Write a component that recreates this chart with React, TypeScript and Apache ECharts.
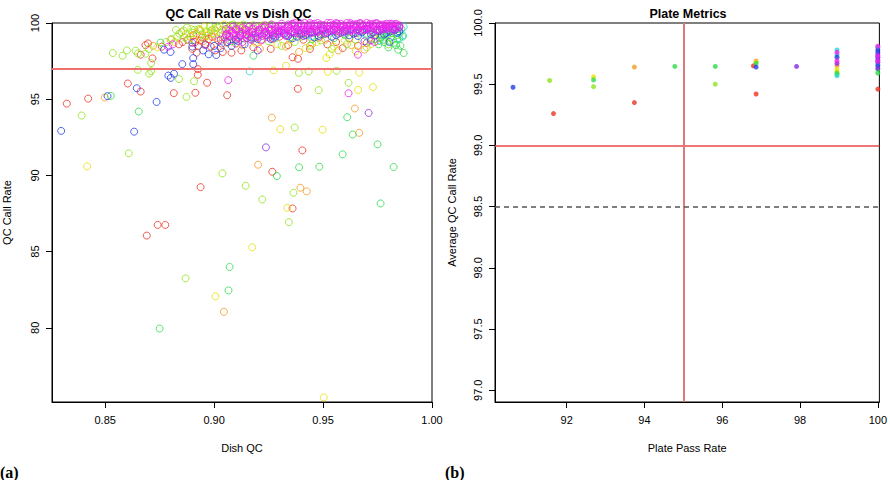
import React, { useEffect, useRef } from "react";
import * as echarts from "echarts";

// ---------- Panel (a): QC Call Rate vs Dish QC ----------
const leftXTicks = [0.85, 0.9, 0.95, 1.0];
const leftYTicks = [80, 85, 90, 95, 100];
const leftThreshold = 97;

const redPts = [
  [0.8324, 94.71], [0.8422, 95.04], [0.8604, 96.03], [0.8663, 95.5], [0.8663, 97.92], [0.8697, 98.66], [0.8717, 97.68],
  [0.8815, 95.4], [0.8914, 95.42], [0.8925, 96.6], [0.8926, 96.97], [0.8938, 89.23], [0.8968, 96.08], [0.906, 95.26],
  [0.9267, 90.24], [0.936, 87.83], [0.9405, 91.64], [0.9384, 95.68], [0.8741, 86.75], [0.8776, 86.75], [0.8691, 86.05],
  [0.8685, 98.55], [0.876, 98.45], [0.8839, 98.6], [0.8855, 98.75], [0.8878, 98.9], [0.89, 98.3], [0.8913, 98.75],
  [0.892, 98.05], [0.8926, 98.5], [0.8935, 98.85], [0.8945, 99.05], [0.896, 98.6], [0.8975, 98.95], [0.899, 99.1],
  [0.9005, 98.2], [0.902, 98.85], [0.904, 98.1], [0.9055, 99.2], [0.908, 98.05], [0.91, 98.65], [0.9125, 98.2],
  [0.915, 99.0], [0.918, 98.4], [0.9215, 98.85], [0.926, 98.3], [0.93, 99.1], [0.934, 98.55], [0.936, 97.75],
  [0.9385, 97.65], [0.941, 98.9], [0.944, 98.3], [0.948, 99.05], [0.952, 98.6], [0.956, 98.75], [0.959, 98.35],
  [0.962, 99.0], [0.966, 98.5], [0.97, 98.7], [0.9735, 99.2], [0.939, 99.3], [0.958, 99.35],
  [0.8905, 99.2], [0.8985, 98.45], [0.9035, 98.65],
];
const orangePts = [
  [0.8498, 95.11], [0.9265, 93.79], [0.9202, 90.7], [0.9396, 89.19], [0.9425, 88.95], [0.9646, 94.39], [0.9666, 92.79],
  [0.9045, 81.05], [0.872, 98.5], [0.88, 98.9], [0.885, 99.4], [0.889, 99.1], [0.892, 99.3], [0.895, 98.8],
  [0.8985, 99.45], [0.901, 99.0], [0.9035, 99.55], [0.906, 98.7], [0.909, 99.25], [0.913, 98.55], [0.917, 99.6],
  [0.921, 98.3], [0.927, 98.95], [0.933, 98.45], [0.939, 98.1], [0.945, 98.65], [0.951, 98.9], [0.957, 98.2],
  [0.963, 98.55], [0.969, 98.25], [0.974, 98.95], [0.968, 99.5], [0.946, 99.4],
  [0.8935, 99.55], [0.8965, 99.15], [0.9005, 99.5], [0.9115, 99.8],
];
const yellowPts = [
  [0.8417, 90.59], [0.9304, 93.03], [0.9336, 87.87], [0.9498, 93.0], [0.9522, 96.8], [0.9661, 95.61], [0.9666, 96.75],
  [0.9729, 95.79], [0.9175, 85.28], [0.9006, 82.06], [0.9503, 75.43], [0.9273, 96.89], [0.874, 98.4], [0.882, 98.75],
  [0.887, 99.25], [0.8905, 98.9], [0.894, 99.5], [0.897, 99.2], [0.9, 99.65], [0.903, 99.35], [0.9065, 99.7],
  [0.9095, 98.95], [0.914, 99.45], [0.919, 98.7], [0.924, 99.2], [0.929, 98.6], [0.935, 98.9], [0.942, 98.35],
  [0.947, 98.75], [0.953, 97.95], [0.955, 98.45], [0.96, 98.85], [0.965, 98.15], [0.972, 98.6], [0.976, 99.0],
  [0.9515, 97.7], [0.933, 97.2],
  [0.8895, 99.6], [0.8955, 99.75], [0.9045, 99.9], [0.912, 99.65], [0.9225, 99.85],
];
const limePts = [
  [0.8535, 98.03], [0.858, 97.85], [0.8608, 91.45], [0.864, 98.18], [0.865, 96.93], [0.8685, 97.98], [0.8702, 96.67],
  [0.8711, 97.37], [0.8711, 96.84], [0.8839, 96.32], [0.8873, 95.15], [0.8908, 96.18], [0.9038, 90.13], [0.9145, 89.32],
  [0.9221, 88.42], [0.9343, 86.93], [0.9364, 88.86], [0.937, 93.14], [0.9389, 96.73], [0.9434, 96.82], [0.948, 95.59],
  [0.9562, 96.86], [0.9617, 96.07], [0.8869, 83.24], [0.8392, 93.93],
  [0.86, 98.2], [0.865, 98.0], [0.87, 98.3], [0.878, 98.75], [0.883, 99.1], [0.886, 99.5], [0.888, 98.9],
  [0.89, 99.35], [0.893, 99.6], [0.8955, 99.0], [0.898, 99.75], [0.9, 99.3], [0.9025, 99.8], [0.905, 99.5],
  [0.9075, 99.85], [0.9105, 99.6], [0.9135, 99.9], [0.916, 99.3], [0.92, 99.75], [0.925, 98.8], [0.928, 99.5],
  [0.931, 98.5], [0.937, 98.75], [0.94, 99.1], [0.944, 98.5], [0.949, 98.85], [0.954, 98.3], [0.961, 98.6],
  [0.965, 98.9], [0.97, 98.4], [0.975, 98.8], [0.9785, 99.1], [0.98, 98.6], [0.982, 98.9], [0.984, 99.2],
  [0.884, 99.3], [0.8875, 99.7], [0.891, 99.55], [0.8945, 99.25], [0.8965, 99.45], [0.899, 99.55], [0.9015, 99.7],
  [0.904, 99.2], [0.9065, 99.6], [0.909, 99.9], [0.912, 99.75], [0.915, 99.55], [0.918, 99.85], [0.922, 99.6],
  [0.926, 99.9], [0.8805, 98.95], [0.8825, 99.55], [0.8865, 99.05],
];
const greenPts = [
  [0.8526, 95.22], [0.8654, 94.19], [0.8754, 98.71], [0.9288, 89.96], [0.939, 90.53], [0.9483, 90.57], [0.959, 91.38],
  [0.9611, 93.82], [0.9636, 92.68], [0.975, 92.04], [0.9764, 88.16], [0.9824, 90.55], [0.9071, 83.99], [0.9066, 82.45],
  [0.875, 79.95], [0.97, 99.3], [0.972, 98.95], [0.974, 99.45], [0.9755, 98.6], [0.977, 99.2], [0.978, 98.75],
  [0.979, 99.5], [0.98, 98.4], [0.981, 99.05], [0.9815, 99.35], [0.9825, 98.7], [0.983, 99.55], [0.984, 98.95],
  [0.9845, 98.25], [0.985, 99.3], [0.9855, 98.5], [0.986, 99.6], [0.987, 98.03], [0.96, 99.2], [0.955, 99.0],
  [0.95, 99.25], [0.945, 98.95], [0.94, 99.35], [0.935, 99.05], [0.918, 99.0], [0.912, 99.2], [0.908, 98.8],
  [0.918, 97.85], [0.956, 99.45], [0.966, 99.35],
  [0.9775, 98.9], [0.9795, 99.25], [0.9835, 98.55], [0.9865, 99.1], [0.9805, 99.45], [0.9765, 99.05],
];
const cyanPts = [
  [0.9163, 96.82], [0.928, 99.0], [0.945, 99.15], [0.96, 99.3], [0.97, 99.1], [0.98, 99.4], [0.984, 99.6],
  [0.987, 99.74], [0.9867, 99.19], [0.976, 98.85], [0.985, 99.0], [0.91, 98.9], [0.92, 99.4], [0.95, 99.5], [0.965, 99.7],
];
const bluePts = [
  [0.8298, 92.92], [0.8511, 95.2], [0.8633, 92.87], [0.8645, 95.72], [0.8736, 94.82], [0.879, 96.55], [0.8801, 96.4],
  [0.8816, 96.67], [0.8854, 97.3], [0.8904, 97.3], [0.8904, 97.7], [0.877, 98.25], [0.88, 98.1], [0.89, 98.45],
  [0.895, 98.2], [0.8975, 97.95], [0.9, 98.5], [0.901, 97.9], [0.903, 98.35], [0.906, 98.75], [0.908, 98.5],
  [0.91, 98.9], [0.914, 98.6], [0.917, 99.05], [0.92, 98.95], [0.924, 99.2], [0.928, 99.1], [0.932, 99.3],
  [0.936, 99.0], [0.94, 99.25], [0.944, 99.4], [0.948, 99.15], [0.952, 99.35], [0.956, 99.2], [0.96, 99.45],
  [0.964, 99.3], [0.968, 99.4], [0.972, 99.25], [0.976, 99.5], [0.979, 99.35], [0.982, 99.6], [0.985, 99.45],
  [0.9805, 98.75], [0.97, 99.6], [0.95, 99.6], [0.93, 99.45],
  [0.938, 99.1], [0.946, 99.05], [0.954, 99.1], [0.962, 99.2], [0.974, 99.2], [0.978, 99.25], [0.984, 99.35],
  [0.926, 98.95], [0.934, 99.15], [0.942, 99.2], [0.966, 99.15],
];
const purplePts = [
  [0.9238, 91.84], [0.9709, 94.1], [0.89, 98.7], [0.896, 98.55], [0.903, 98.9], [0.907, 99.1], [0.911, 98.8],
  [0.915, 99.25], [0.919, 99.05], [0.923, 99.35], [0.927, 99.2], [0.931, 99.5], [0.935, 99.3], [0.939, 99.55],
  [0.943, 99.3], [0.947, 99.5], [0.951, 99.3], [0.955, 99.55], [0.959, 99.4], [0.963, 99.6], [0.967, 99.45],
  [0.971, 99.65], [0.975, 99.5], [0.979, 99.7], [0.983, 99.55], [0.985, 99.75], [0.969, 98.8], [0.972, 98.85], [0.92, 98.2],
  [0.925, 99.05], [0.933, 99.2], [0.941, 99.15], [0.949, 99.25], [0.957, 99.3], [0.965, 99.35], [0.973, 99.4],
  [0.981, 99.45], [0.937, 99.35], [0.945, 99.4], [0.953, 99.45], [0.961, 99.5], [0.969, 99.55], [0.977, 99.6],
  [0.929, 99.25], [0.917, 98.9], [0.912, 99.15],
];
const magentaPts = [
  [0.9065, 96.25], [0.9617, 95.39], [0.879, 98.45], [0.881, 98.6], [0.966, 97.92], [0.9736, 98.75],
  [0.905, 99.05], [0.906, 99.3], [0.907, 98.85], [0.908, 99.45], [0.909, 99.15], [0.91, 99.55], [0.911, 99.0],
  [0.912, 99.3], [0.913, 98.75], [0.914, 99.6], [0.915, 99.2], [0.916, 99.45], [0.917, 98.95], [0.918, 99.65],
  [0.919, 99.35], [0.92, 99.1], [0.921, 99.55], [0.922, 98.9], [0.923, 99.7], [0.924, 99.4], [0.925, 99.2],
  [0.926, 99.6], [0.927, 99.0], [0.928, 99.75], [0.929, 99.45], [0.93, 99.3], [0.931, 99.8], [0.932, 99.55],
  [0.933, 99.15], [0.934, 99.9], [0.935, 99.65], [0.936, 99.4], [0.937, 99.85], [0.938, 99.6], [0.939, 99.3],
  [0.94, 99.95], [0.941, 99.7], [0.942, 99.45], [0.943, 99.85], [0.944, 99.6], [0.945, 99.35], [0.946, 99.95],
  [0.947, 99.75], [0.948, 99.5], [0.949, 99.9], [0.95, 99.65], [0.951, 99.4], [0.952, 100.0], [0.953, 99.8],
  [0.954, 99.55], [0.955, 99.9], [0.956, 99.7], [0.957, 99.45], [0.958, 99.95], [0.959, 99.75], [0.96, 99.6],
  [0.961, 100.0], [0.962, 99.8], [0.963, 99.5], [0.964, 99.9], [0.965, 99.7], [0.966, 99.55], [0.967, 99.95],
  [0.968, 99.8], [0.969, 99.6], [0.97, 100.0], [0.971, 99.85], [0.972, 99.65], [0.973, 99.95], [0.974, 99.75],
  [0.975, 99.55], [0.976, 99.9], [0.977, 99.8], [0.978, 99.6], [0.979, 99.95], [0.98, 99.75], [0.981, 99.85],
  [0.982, 99.65], [0.983, 99.9], [0.984, 99.8], [0.936, 99.95], [0.944, 100.0], [0.956, 100.0], [0.9625, 99.9],
  [0.9335, 99.7], [0.9385, 99.8], [0.9425, 99.55], [0.9475, 99.85], [0.9535, 99.65], [0.9575, 99.85], [0.9655, 99.95],
  [0.9705, 99.75], [0.9745, 99.95], [0.9785, 99.85], [0.9815, 99.95], [0.9205, 99.45], [0.9255, 99.5], [0.9295, 99.65],
];
const magentaCorePts = [
  [0.9055, 99.25], [0.9055, 99.6], [0.907, 99.5], [0.907, 99.15], [0.9085, 99.35], [0.9085, 99.75], [0.91, 99.2],
  [0.91, 99.65], [0.9115, 99.45], [0.9115, 99.05], [0.913, 99.7], [0.913, 99.35], [0.9145, 99.25], [0.9145, 99.55],
  [0.916, 99.75], [0.916, 99.1], [0.9175, 99.4], [0.9175, 99.6], [0.919, 99.2], [0.919, 99.8], [0.9205, 99.55],
  [0.9205, 99.3], [0.922, 99.7], [0.922, 99.15], [0.9235, 99.45], [0.9235, 99.85], [0.925, 99.3], [0.925, 99.7],
  [0.9265, 99.55], [0.9265, 99.9], [0.928, 99.35], [0.928, 99.6], [0.9295, 99.8], [0.9295, 99.5], [0.931, 99.4],
  [0.931, 99.95], [0.9325, 99.65], [0.9325, 99.35], [0.934, 99.5], [0.934, 99.75], [0.9355, 99.9], [0.9355, 99.45],
  [0.937, 99.6], [0.937, 100.0], [0.9385, 99.45], [0.9385, 99.75], [0.94, 99.85], [0.94, 99.55], [0.9415, 99.4],
  [0.9415, 100.0], [0.943, 99.7], [0.943, 99.5], [0.9445, 99.9], [0.9445, 99.45], [0.946, 99.6], [0.946, 99.8],
  [0.9475, 99.4], [0.9475, 100.0], [0.949, 99.7], [0.949, 99.55], [0.9505, 99.85], [0.9505, 99.5], [0.952, 99.6],
  [0.952, 99.75], [0.9535, 99.45], [0.9535, 100.0], [0.955, 99.8], [0.955, 99.6], [0.9565, 99.5], [0.9565, 99.95],
  [0.958, 99.7], [0.958, 99.55], [0.9595, 99.85], [0.9595, 99.5], [0.961, 99.65], [0.961, 99.8], [0.9625, 99.55],
  [0.9625, 100.0], [0.964, 99.75], [0.964, 99.6], [0.9655, 99.5], [0.9655, 99.85], [0.967, 99.7], [0.967, 100.0],
  [0.9685, 99.55], [0.9685, 99.9], [0.97, 99.8], [0.97, 99.6], [0.9715, 99.5], [0.9715, 99.95], [0.973, 99.7],
  [0.973, 99.85], [0.9745, 99.6], [0.9745, 100.0], [0.976, 99.75], [0.976, 99.55], [0.9775, 99.9], [0.9775, 99.65],
  [0.979, 99.6], [0.979, 99.8], [0.9805, 99.95], [0.9805, 99.7], [0.982, 99.75], [0.982, 99.55], [0.9835, 99.95],
  [0.9835, 99.65], [0.985, 99.85], [0.985, 99.7],
];

// ---------- Panel (b): Plate Metrics ----------
const rightXTicks = [92, 94, 96, 98, 100];
const rightYTicks = [97.0, 97.5, 98.0, 98.5, 99.0, 99.5, 100.0];
const passRateCut = 95;
const callRateCut = 99;
const callRateWarn = 98.5;

const plateRed = [[91.66, 99.26], [93.74, 99.35], [96.87, 99.42], [100, 99.46], [96.8, 99.65]];
const plateOrange = [[93.74, 99.64], [96.87, 99.69], [98.95, 99.65]];
const plateYellow = [[92.69, 99.56], [96.87, 99.68], [98.95, 99.62], [98.95, 99.6]];
const plateLime = [[91.56, 99.53], [92.69, 99.48], [95.82, 99.5], [98.95, 99.58]];
const plateGreen = [[92.69, 99.535], [94.78, 99.645], [95.82, 99.645], [96.87, 99.67], [98.95, 99.59], [100, 99.59], [100, 99.62]];
const plateCyan = [[98.95, 99.78], [98.95, 99.74], [98.95, 99.57], [100, 99.8], [100, 99.66]];
const plateBlue = [[90.62, 99.475], [96.87, 99.64], [100, 99.76], [100, 99.78], [100, 99.72], [100, 99.65], [98.95, 99.72]];
const platePurple = [[97.91, 99.645], [100, 99.7], [100, 99.68], [100, 99.74], [100, 99.63], [98.95, 99.67]];
const plateMagenta = [[98.95, 99.69], [98.95, 99.76], [100, 99.81], [100, 99.73], [100, 99.69]];

const COLORS = {
  red: "#EE3322",
  orange: "#F59A20",
  yellow: "#E6E000",
  lime: "#8EE61A",
  green: "#2EDC4A",
  cyan: "#22D6D0",
  blue: "#2240E8",
  purple: "#8A2BE2",
  magenta: "#EE22EE",
};

const FONT = "Liberation Sans";

export default function App() {
  const ref = useRef<HTMLDivElement>(null);

  useEffect(() => {
    if (!ref.current) return;
    const chart = echarts.init(ref.current, null, { renderer: "svg" });

    const hollow = (name: string, data: number[][], color: string) => ({
      name,
      type: "scatter",
      xAxisIndex: 0,
      yAxisIndex: 0,
      data,
      symbol: "circle",
      symbolSize: 7,
      clip: true,
      itemStyle: { color: "rgba(0,0,0,0)", borderColor: color, borderWidth: 1 },
      emphasis: { disabled: true },
    });
    const dot = (name: string, data: number[][], color: string) => ({
      name,
      type: "scatter",
      xAxisIndex: 1,
      yAxisIndex: 1,
      data,
      symbol: "circle",
      symbolSize: 5,
      clip: false,
      itemStyle: { color },
      emphasis: { disabled: true },
    });

    const axisCommon = {
      axisLine: { show: true, onZero: false, lineStyle: { color: "#000", width: 1 } },
      axisTick: { show: true, length: 6, inside: false, lineStyle: { color: "#000" } },
      splitLine: { show: false },
      nameTextStyle: { color: "#000", fontFamily: FONT, fontSize: 11 },
    };

    const option = {
      animation: false,
      backgroundColor: "#fff",
      grid: [
        { left: 45, top: 23, width: 387, height: 379, show: true, borderColor: "#000", borderWidth: 1, backgroundColor: "transparent" },
        { left: 495, top: 23, width: 386, height: 379, show: true, borderColor: "#000", borderWidth: 1, backgroundColor: "transparent" },
      ],
      xAxis: [
        {
          ...axisCommon,
          gridIndex: 0,
          type: "value",
          min: 0.8256,
          max: 1.0,
          name: "Dish QC",
          nameLocation: "middle",
          nameGap: 40,
          axisTick: { ...axisCommon.axisTick, customValues: leftXTicks },
          axisLabel: {
            customValues: leftXTicks,
            formatter: (v: number) => v.toFixed(2),
            color: "#000",
            fontFamily: FONT,
            fontSize: 11,
            margin: 12,
          },
        },
        {
          ...axisCommon,
          gridIndex: 1,
          type: "value",
          min: 90.156,
          max: 100.04,
          name: "Plate Pass Rate",
          nameLocation: "middle",
          nameGap: 40,
          axisTick: { ...axisCommon.axisTick, customValues: rightXTicks },
          axisLabel: {
            customValues: rightXTicks,
            formatter: (v: number) => String(Math.round(v)),
            color: "#000",
            fontFamily: FONT,
            fontSize: 11,
            margin: 12,
          },
        },
      ],
      yAxis: [
        {
          ...axisCommon,
          gridIndex: 0,
          type: "value",
          min: 75.13,
          max: 100,
          name: "QC Call Rate",
          nameLocation: "middle",
          nameGap: 40,
          axisTick: { ...axisCommon.axisTick, customValues: leftYTicks },
          axisLabel: {
            customValues: leftYTicks,
            formatter: (v: number) => String(Math.round(v)),
            rotate: 90,
            color: "#000",
            fontFamily: FONT,
            fontSize: 11,
            margin: 12,
          },
        },
        {
          ...axisCommon,
          gridIndex: 1,
          type: "value",
          min: 96.904,
          max: 100.0,
          name: "Average QC Call Rate",
          nameLocation: "middle",
          nameGap: 38,
          axisTick: { ...axisCommon.axisTick, customValues: rightYTicks },
          axisLabel: {
            customValues: rightYTicks,
            formatter: (v: number) => v.toFixed(1),
            rotate: 90,
            color: "#000",
            fontFamily: FONT,
            fontSize: 11,
            margin: 12,
          },
        },
      ],
      graphic: [
        { type: "text", x: 238.5, y: 14, style: { text: "QC Call Rate vs Dish QC", align: "center", verticalAlign: "middle", font: `bold 12.5px "${FONT}"`, fill: "#000" } },
        { type: "text", x: 688, y: 14, style: { text: "Plate Metrics", align: "center", verticalAlign: "middle", font: `bold 12.5px "${FONT}"`, fill: "#000" } },
        { type: "text", x: 0, y: 472, style: { text: "(a)", align: "left", verticalAlign: "middle", font: `bold 16px "Liberation Serif"`, fill: "#000" } },
        { type: "text", x: 445, y: 472, style: { text: "(b)", align: "left", verticalAlign: "middle", font: `bold 16px "Liberation Serif"`, fill: "#000" } },
      ],
      series: [
        {
          ...hollow("red", redPts, COLORS.red),
          markLine: {
            silent: true,
            symbol: "none",
            label: { show: false },
            lineStyle: { color: "#F07070", width: 2, type: "solid" },
            data: [{ yAxis: leftThreshold }],
          },
        },
        hollow("orange", orangePts, COLORS.orange),
        hollow("yellow", yellowPts, COLORS.yellow),
        hollow("lime", limePts, COLORS.lime),
        hollow("green", greenPts, COLORS.green),
        hollow("cyan", cyanPts, COLORS.cyan),
        hollow("blue", bluePts, COLORS.blue),
        hollow("purple", purplePts, COLORS.purple),
        hollow("magenta", magentaPts, COLORS.magenta),
        hollow("magentaCore", magentaCorePts, COLORS.magenta),
        {
          ...dot("pRed", plateRed, COLORS.red),
          markLine: {
            silent: true,
            symbol: "none",
            label: { show: false },
            data: [
              { yAxis: callRateCut, lineStyle: { color: "#E84848", width: 1.5, type: "solid" } },
              { xAxis: passRateCut, lineStyle: { color: "#E07A7A", width: 2, type: "solid" } },
              { yAxis: callRateWarn, lineStyle: { color: "#555", width: 1.5, type: [5, 4] } },
            ],
          },
        },
        dot("pOrange", plateOrange, COLORS.orange),
        dot("pYellow", plateYellow, COLORS.yellow),
        dot("pLime", plateLime, COLORS.lime),
        dot("pGreen", plateGreen, COLORS.green),
        dot("pCyan", plateCyan, COLORS.cyan),
        dot("pBlue", plateBlue, COLORS.blue),
        dot("pPurple", platePurple, COLORS.purple),
        dot("pMagenta", plateMagenta, COLORS.magenta),
      ],
    };

    chart.setOption(option as any);
    return () => chart.dispose();
  }, []);

  return <div ref={ref} style={{ position: "fixed", left: 0, top: 0, width: 890, height: 480 }} />;
}
